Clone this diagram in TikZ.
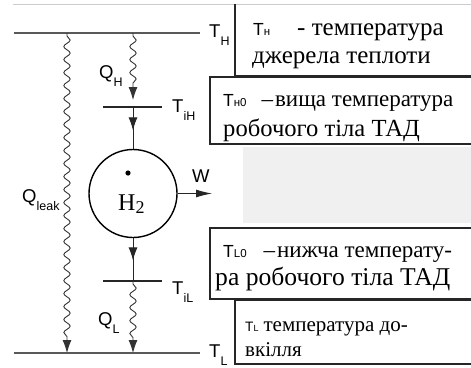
\documentclass[tikz,border=0pt]{standalone}
\usepackage{fontspec}
\setmainfont{Liberation Serif}
\setsansfont{Liberation Sans}
\usetikzlibrary{positioning, calc, arrows.meta, decorations.pathmorphing}
\newcommand\lowidx[1]{\raisebox{-8.5pt}{\fontsize{12.5}{12.5}\selectfont #1}}
\newcommand\tmark[3][1]{\scalebox{#1}{\textsf{\fontsize{17.5}{17.5}\selectfont #2}\textsf{\fontsize{11.5}{11.5}\selectfont #3}}}

\begin{document}
\begin{tikzpicture}[x=1pt, y=-1pt,
    level/.style={draw=black!65, line width=1.3pt},
    wave/.style={draw=black!80, line width=0.9pt, decorate, decoration={snake, amplitude=3.2pt, segment length=13pt, pre length=3pt, post length=15pt}},
    flow/.style={draw=black!85, line width=1pt},
    tip/.style={-{Latex[length=13pt, width=9pt]}},
    lbl/.style={font=\sffamily\fontsize{18.5}{18.5}\selectfont, inner sep=0pt, anchor=base west},
    note/.style={inner sep=0pt, anchor=base west},
    frame/.style={draw=black!85, line width=1.2pt}]
  \useasboundingbox (0,0) rectangle (471,367);
  \fill[black!6] (243,147) rectangle (472,223);
  \draw[black!20, line width=1pt] (13,4) -- (472,4);
  \draw[frame] (235,4) -- (235,76) -- (472,76);
  \draw[frame] (472,77) -- (210,77) -- (210,144) -- (472,144);
  \draw[frame] (472,228) -- (210,228) -- (210,299) -- (472,299);
  \draw[frame] (472,300) -- (235,300) -- (235,364) -- (472,364);
  \node[note, font=\fontsize{25}{25}\selectfont] (hot1) at (253,35) {\tmark{T}{н}\hspace{27pt}- температура};
  \node[note, font=\fontsize{25}{25}\selectfont] (hot2) at (252,63) {джерела теплоти};
  \node[note, font=\fontsize{23}{23}\selectfont] (wh1) at (223,106) {\tmark{T}{н0}\hspace{15pt}–\hspace{2pt}вища температура};
  \node[note, font=\fontsize{24.6}{24.6}\selectfont] (wh2) at (223,136) {робочого тіла ТАД};
  \node[note, font=\fontsize{23}{23}\selectfont] (wl1) at (223,257) {\tmark{T}{L0}\hspace{17pt}–\hspace{2pt}нижча температу-};
  \node[note, font=\fontsize{25.6}{25.6}\selectfont] (wl2) at (215,285) {ра робочого тіла ТАД};
  \node[note, font=\fontsize{21}{21}\selectfont] (env1) at (245,331) {\tmark[0.78]{T}{L}\hspace{5pt}температура до-};
  \node[note, font=\fontsize{21}{21}\selectfont] (env2) at (245,356) {вкілля};
  \coordinate (thl) at (14,33);
  \coordinate (thr) at (200,33);
  \coordinate (tll) at (14,353);
  \coordinate (tlr) at (200,353);
  \draw[level] (thl) -- (thr);
  \draw[level] (tll) -- (tlr);
  \node[lbl] (th) at (209,37) {T\lowidx{H}};
  \node[lbl] (tl) at (209,357) {T\lowidx{L}};
  \coordinate (tih) at (133,107);
  \coordinate (til) at (133,281);
  \draw[level, black!85] ($(tih)+(-30,0)$) -- ($(tih)+(29,0)$);
  \draw[level, black!85] ($(til)+(-30,0)$) -- ($(til)+(29,0)$);
  \node[lbl] (tihl) at (172,112) {T\lowidx{iH}};
  \node[lbl] (till) at (172,294) {T\lowidx{iL}};
  \node[circle, draw, line width=1.4pt, minimum size=88pt, inner sep=0pt] (gas) at (133,193.5) {};
  \fill (128,173) circle (2.6pt);
  \node[note, font=\fontsize{24}{24}\selectfont] (h2) at (118,210) {H\raisebox{-3pt}{\fontsize{18}{18}\selectfont 2}};
  \coordinate (qh0) at (133,33);
  \coordinate (qh1) at (133,100);
  \coordinate (ql0) at (133,281);
  \coordinate (ql1) at (133,353);
  \coordinate (lk0) at (67,33);
  \coordinate (lk1) at (67,353);
  \draw[wave, tip] (qh0) -- (qh1);
  \draw[wave, tip] (ql0) -- (ql1);
  \draw[wave, tip] (lk0) -- (lk1);
  \draw[flow] (tih) -- (gas.north);
  \draw[flow, tip] (tih) -- ($(tih)!0.56!(gas.north)$);
  \draw[flow] (gas.south) -- (til);
  \draw[flow, tip] (gas.south) -- ($(gas.south)!0.52!(til)$);
  \coordinate (wend) at (212,193.5);
  \draw[flow, -{Latex[length=16pt, width=8pt]}] (gas.east) -- (wend);
  \node[lbl] (qh) at (99,78) {Q\lowidx{H}};
  \node[lbl] (ql) at (98,325) {Q\lowidx{L}};
  \node[lbl] (qleak) at (22,202) {Q\lowidx{leak}};
  \node[lbl] (w) at (192,182) {W};
\end{tikzpicture}
\end{document}
